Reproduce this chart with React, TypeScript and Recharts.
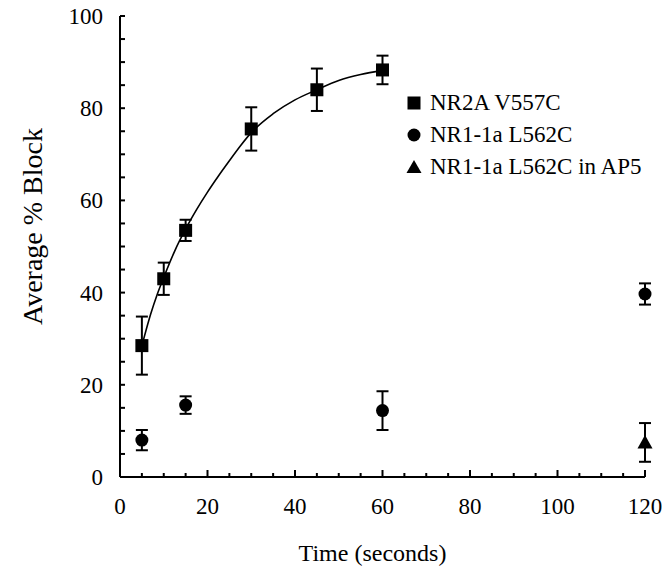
import React from 'react';
import { ComposedChart, XAxis, YAxis, Scatter, Line, ErrorBar, Legend } from 'recharts';

const FONT = "'Liberation Serif', 'Times New Roman', Times, serif";

// NR2A V557C
const timeNR2A = [5, 10, 15, 30, 45, 60];
const blockNR2A = [28.5, 43, 53.5, 75.5, 84, 88.3];
const errNR2A = [6.3, 3.5, 2.3, 4.7, 4.6, 3.1];

// NR1-1a L562C
const timeNR1 = [5, 15, 60, 120];
const blockNR1 = [8, 15.6, 14.4, 39.7];
const errNR1 = [2.2, 1.9, 4.2, 2.3];

// NR1-1a L562C in AP5
const timeAP5 = [120];
const blockAP5 = [7.5];
const errAP5 = [4.2];

// fitted curve
const fitTime = [5, 6, 7, 8.5, 10, 12.5, 15, 17.5, 20, 22.5, 25, 27.5, 30, 35, 40, 45, 50, 55, 60];
const fitBlock = [28.5, 32, 35.3, 39.6, 43.3, 49, 53.8, 58, 61.8, 65.3, 68.6, 71.8, 74.7, 78.8, 81.8, 84, 86, 87.3, 88.2];

const xTicks = [0, 5, 10, 15, 20, 25, 30, 35, 40, 45, 50, 55, 60, 65, 70, 75, 80, 85, 90, 95, 100, 105, 110, 115, 120];
const xLabels = [0, 20, 40, 60, 80, 100, 120];
const yTicks = [0, 5, 10, 15, 20, 25, 30, 35, 40, 45, 50, 55, 60, 65, 70, 75, 80, 85, 90, 95, 100];
const yLabels = [0, 20, 40, 60, 80, 100];

const seriesNames = ['NR2A V557C', 'NR1-1a L562C', 'NR1-1a L562C in AP5'];
const seriesShapes = ['square', 'circle', 'triangle'];

const build = (xs: number[], ys: number[], es?: number[]) =>
  xs.map((x, i) => ({ x, y: ys[i], err: es ? es[i] : 0 }));

const dataNR2A = build(timeNR2A, blockNR2A, errNR2A);
const dataNR1 = build(timeNR1, blockNR1, errNR1);
const dataAP5 = build(timeAP5, blockAP5, errAP5);
const dataFit = build(fitTime, fitBlock);

const Square = (p: any) => (
  <rect x={p.cx - 6.5} y={p.cy - 6.5} width={13} height={13} fill="#000" />
);
const Dot = (p: any) => <circle cx={p.cx} cy={p.cy} r={6.5} fill="#000" />;
const Tri = (p: any) => (
  <polygon
    points={`${p.cx},${p.cy - 7.5} ${p.cx + 7.5},${p.cy + 6} ${p.cx - 7.5},${p.cy + 6}`}
    fill="#000"
  />
);

const YTick = (props: any) => {
  const { x, y, payload } = props;
  const v = payload.value;
  return (
    <g>
      {v !== 0 && <line x1={x} x2={x + 5} y1={y} y2={y} stroke="#000" strokeWidth={2} />}
      {yLabels.includes(v) && (
        <text x={x - 17} y={y} dy={8} textAnchor="end" fontFamily={FONT} fontSize={23} fill="#000">
          {v}
        </text>
      )}
    </g>
  );
};

const XTick = (props: any) => {
  const { x, y, payload } = props;
  const v = payload.value;
  const major = xLabels.includes(v);
  return (
    <g>
      {v !== 0 && (
        <line x1={x} x2={x} y1={y} y2={y - (major ? 7 : 4)} stroke="#000" strokeWidth={2} />
      )}
      {major && (
        <text x={x} y={y + 37} textAnchor="middle" fontFamily={FONT} fontSize={23} fill="#000">
          {v}
        </text>
      )}
    </g>
  );
};

const LegendMarker = ({ shape }: { shape: string }) => (
  <svg width={16} height={16} style={{ display: 'block' }}>
    {shape === 'square' && <rect x={1.5} y={1.5} width={13} height={13} fill="#000" />}
    {shape === 'circle' && <circle cx={8} cy={8} r={6.5} fill="#000" />}
    {shape === 'triangle' && <polygon points="8,1 15.5,14 0.5,14" fill="#000" />}
  </svg>
);

const renderLegend = (props: any) => {
  const present = (props.payload || []).map((p: any) => p.value);
  const names = seriesNames.filter((n) => present.length === 0 || present.includes(n));
  return (
    <div style={{ fontFamily: FONT, fontSize: 23, color: '#000' }}>
      {names.map((name) => {
        const idx = seriesNames.indexOf(name);
        return (
          <div key={name} style={{ display: 'flex', alignItems: 'center', height: 32, whiteSpace: 'nowrap' }}>
            <LegendMarker shape={seriesShapes[idx]} />
            <span style={{ marginLeft: 8, lineHeight: '32px' }}>{name}</span>
          </div>
        );
      })}
    </div>
  );
};

const YTitle = (props: any) => {
  const vb = props.viewBox || {};
  const cx = 32;
  const cy = vb.y + vb.height / 2 - 20;
  return (
    <text
      x={cx}
      y={cy}
      transform={`rotate(-90, ${cx}, ${cy})`}
      textAnchor="middle"
      dominantBaseline="central"
      fontFamily={FONT}
      fontSize={28}
      fill="#000"
    >
      Average % Block
    </text>
  );
};

const XTitle = (props: any) => {
  const vb = props.viewBox || {};
  return (
    <text
      x={vb.x + vb.width / 2 - 10}
      y={vb.y + 84}
      textAnchor="middle"
      fontFamily={FONT}
      fontSize={24}
      fill="#000"
    >
      Time (seconds)
    </text>
  );
};

export default function App() {
  return (
    <div style={{ position: 'absolute', left: 0, top: 0, width: 664, height: 577, background: '#fff' }}>
      <ComposedChart width={664} height={577} margin={{ top: 16, right: 19, left: 0, bottom: 0 }}>
        <XAxis
          type="number"
          dataKey="x"
          domain={[0, 120]}
          ticks={xTicks}
          interval={0}
          tickSize={0}
          tickMargin={0}
          tick={<XTick />}
          height={100}
          axisLine={{ stroke: '#000', strokeWidth: 2 }}
          label={<XTitle />}
        />
        <YAxis
          type="number"
          dataKey="y"
          domain={[0, 100]}
          ticks={yTicks}
          interval={0}
          tickSize={0}
          tickMargin={0}
          tick={<YTick />}
          width={120}
          axisLine={{ stroke: '#000', strokeWidth: 2 }}
          label={<YTitle />}
        />
        <Line
          data={dataFit}
          dataKey="y"
          type="monotone"
          stroke="#000"
          strokeWidth={1.6}
          dot={false}
          activeDot={false}
          legendType="none"
          isAnimationActive={false}
        />
        <Scatter name={seriesNames[0]} data={dataNR2A} dataKey="y" fill="#000" shape={Square} isAnimationActive={false}>
          <ErrorBar dataKey="err" direction="y" width={6} stroke="#000" strokeWidth={2} isAnimationActive={false} />
        </Scatter>
        <Scatter name={seriesNames[1]} data={dataNR1} dataKey="y" fill="#000" shape={Dot} isAnimationActive={false}>
          <ErrorBar dataKey="err" direction="y" width={6} stroke="#000" strokeWidth={2} isAnimationActive={false} />
        </Scatter>
        <Scatter name={seriesNames[2]} data={dataAP5} dataKey="y" fill="#000" shape={Tri} isAnimationActive={false}>
          <ErrorBar dataKey="err" direction="y" width={6} stroke="#000" strokeWidth={2} isAnimationActive={false} />
        </Scatter>
        <Legend
          layout="vertical"
          align="center"
          verticalAlign="middle"
          content={renderLegend}
          wrapperStyle={{ left: 406, top: 87, width: 250 }}
        />
      </ComposedChart>
    </div>
  );
}
